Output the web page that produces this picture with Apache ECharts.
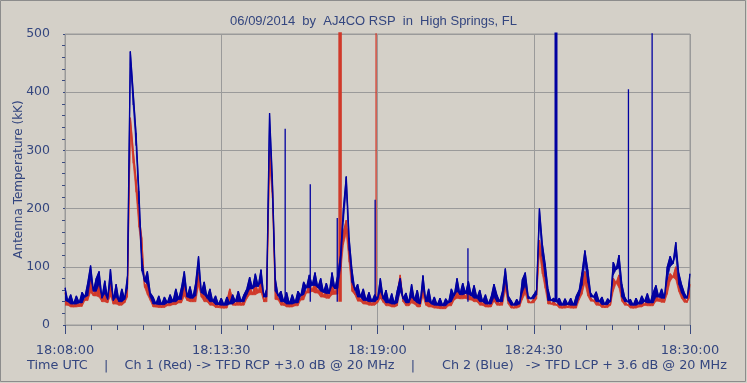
<!DOCTYPE html>
<html><head><meta charset="utf-8">
<script src="https://cdn.jsdelivr.net/npm/echarts@6/dist/echarts.min.js"></script>
<style>html,body{margin:0;padding:0;background:#D4D0C8;}#c{width:747px;height:383px;}</style>
</head><body><div id="c"></div>
<script>
// --- data ---
const titleText = "06/09/2014  by  AJ4CO RSP  in  High Springs, FL";
const footerLeft = "Time UTC    |    Ch 1 (Red) -> TFD RCP +3.0 dB @ 20 MHz    |";
const footerRight = "Ch 2 (Blue)   -> TFD LCP + 3.6 dB @ 20 MHz";
const yAxisName = "Antenna Temperature (kK)";
const startSeconds = 18*3600 + 8*60;   // 18:08:00 UTC
const sampleStep = 6;                  // seconds between samples
const xTickSeconds = [0, 330, 660, 990, 1320];
const yTicks = [0, 100, 200, 300, 400, 500];

const blueValues = [
64,40,52,36,50,38,56,48,72,102,58,80,92,46,76,44,96,42,70,40,
62,44,85,470,400,330,230,115,75,92,55,48,36,50,35,48,38,52,40,62,
44,64,92,48,66,46,72,118,55,74,46,62,40,50,35,46,34,48,36,52,
40,58,40,52,62,82,62,88,66,95,48,62,364,250,80,50,58,40,56,36,
52,38,58,50,74,64,86,68,90,64,80,56,72,54,90,62,85,120,200,255,
150,95,60,70,48,62,42,56,40,52,44,80,45,60,38,54,36,60,80,45,
55,38,70,42,60,36,85,40,62,36,48,34,46,33,45,38,62,50,80,52,
72,54,75,50,68,46,60,40,52,36,48,70,52,40,58,97,50,42,34,44,
36,78,90,50,45,52,60,200,140,105,62,42,46,40,46,34,45,35,46,34,
50,60,90,128,95,55,48,57,40,48,35,45,40,108,95,120,70,48,40,44,
34,46,36,50,40,54,38,55,68,48,62,46,100,118,105,142,90,70,55,46,
88];

const redValues = [
56,34,45,31,43,32,48,42,62,78,50,66,70,40,62,38,72,36,58,34,
52,38,70,356,300,250,190,150,65,74,48,42,31,43,30,42,33,45,35,53,
38,55,72,42,56,40,60,90,48,62,40,53,34,43,30,40,29,41,62,44,
34,50,34,45,52,68,52,72,55,78,40,52,300,240,66,43,50,34,48,31,
45,33,50,43,62,55,72,58,76,55,68,48,62,46,74,53,70,110,160,180,
130,80,52,60,41,53,36,48,34,45,38,68,39,52,33,46,31,55,86,40,
47,33,60,36,52,31,72,34,53,31,41,29,40,28,39,33,53,43,68,45,
62,46,64,43,58,40,51,34,45,31,41,60,45,34,50,82,43,36,29,38,
31,66,76,43,38,45,52,146,110,85,53,36,40,34,40,29,38,30,40,29,
43,51,75,92,72,47,41,49,34,41,30,38,34,80,72,86,58,41,34,38,
29,40,31,43,34,46,33,47,58,41,53,39,75,88,82,100,70,58,46,39,
70];

// narrow interference spikes: time (s after 18:08:00) and peak (kK)
const blueSpikeTimes = [465, 518, 575, 655, 851, 1190, 1240];
const blueSpikePeaks = [337, 242, 184, 215, 132, 405, 520];
const blueWideSpikeTimes = [1037];
const blueWideSpikePeaks = [600];
const redSpikeTimes = [657];
const redSpikePeaks = [600];
const redWideSpikeTimes = [581];
const redWideSpikePeaks = [600];
const spikeBase = 40;

// --- build ---
const bandDepth = 22; // how far below each trace the noise band is shaded
function pairs(vals){ return vals.map((v,i)=>[i*sampleStep, v]); }
function bandData(vals){
  return vals.map((v,i)=>{
    const a = vals[Math.max(0,i-1)], b = vals[Math.min(vals.length-1,i+1)];
    return [i*sampleStep, Math.max(Math.min(a,v,b), v-bandDepth), v];
  });
}
function bandSeries(vals, color, z){
  const d = bandData(vals);
  return {
    type:'custom', z:z, silent:true, clip:true, data:d, encode:{x:0, y:[1,2]},
    renderItem:function(params, api){
      const i = params.dataIndex;
      if (i >= d.length-1) return null;
      const p = [
        api.coord([d[i][0], d[i][2]]), api.coord([d[i+1][0], d[i+1][2]]),
        api.coord([d[i+1][0], d[i+1][1]]), api.coord([d[i][0], d[i][1]])
      ];
      return {type:'polygon', shape:{points:p}, style:{fill:color, stroke:color, lineWidth:0.7}};
    }
  };
}
function spikes(times, peaks){
  const out=[];
  times.forEach((t,k)=>{ out.push([t, spikeBase],[t, peaks[k]],[t,'-']); });
  return out;
}
function fmt(t){
  const s = startSeconds + t;
  const h = Math.floor(s/3600), m = Math.floor((s%3600)/60), ss = Math.round(s%60);
  return String(h).padStart(2,'0')+':'+String(m).padStart(2,'0')+':'+String(ss).padStart(2,'0');
}
const txt = '#34467F';
const fontA = 'Liberation Sans';
const fontB = 'DejaVu Sans';
const RED = '#D0392A', BLUE = '#0000A0';

const chart = echarts.init(document.getElementById('c'));
chart.setOption({
  animation:false,
  backgroundColor:'#D4D0C8',
  title:[
    {text:titleText, left:'center', top:10, textStyle:{color:txt, fontSize:13, fontWeight:'normal', fontFamily:fontA}},
    {text:footerLeft, left:27, top:359, padding:0, textStyle:{color:txt, fontSize:12.8, fontWeight:'normal', fontFamily:fontB}},
    {text:footerRight, left:442, top:359, padding:0, textStyle:{color:txt, fontSize:12.8, fontWeight:'normal', fontFamily:fontB}}
  ],
  graphic:[{type:'rect', shape:{x:0.5,y:0.5,width:745,height:381}, style:{fill:'none', stroke:'#8C8C8C', lineWidth:1}, silent:true}],
  grid:{left:65, right:57, top:34, bottom:58, show:true, borderColor:'#9A9A9A', borderWidth:1, backgroundColor:'transparent'},
  xAxis:{
    type:'value', min:xTickSeconds[0], max:xTickSeconds[xTickSeconds.length-1], interval:xTickSeconds[1]-xTickSeconds[0],
    offset:9,
    axisLine:{show:false},
    axisTick:{show:true, length:9, lineStyle:{color:'#3A4A80'}},
    minorTick:{show:true, splitNumber:6, length:5, lineStyle:{color:'#3A4A80'}},
    splitLine:{show:true, lineStyle:{color:'#9A9A9A', width:1}},
    axisLabel:{formatter:fmt, color:txt, fontSize:13, fontFamily:fontB, margin:10}
  },
  yAxis:{
    type:'value', min:yTicks[0], max:yTicks[yTicks.length-1], interval:yTicks[1]-yTicks[0],
    offset:5,
    name:yAxisName, nameLocation:'middle', nameGap:35, nameRotate:90, nameMoveOverlap:false,
    nameTextStyle:{color:txt, fontSize:12, fontFamily:fontB},
    axisLine:{show:false},
    axisTick:{show:true, length:2, lineStyle:{color:'#3A4A80'}},
    minorTick:{show:true, splitNumber:5, length:3, lineStyle:{color:'#3A4A80'}},
    splitLine:{show:true, lineStyle:{color:'#9A9A9A', width:1}},
    axisLabel:{color:txt, fontSize:12.5, fontFamily:fontB, margin:10}
  },
  series:[
    bandSeries(redValues, RED, 2),
    {type:'line', data:pairs(redValues), showSymbol:false, lineStyle:{color:RED, width:1.3}, z:2},
    {type:'line', data:spikes(redSpikeTimes, redSpikePeaks), showSymbol:false, lineStyle:{color:RED, width:1.3}, z:2},
    {type:'line', data:spikes(redWideSpikeTimes, redWideSpikePeaks), showSymbol:false, lineStyle:{color:RED, width:3.5}, z:2},
    bandSeries(blueValues, BLUE, 3),
    {type:'line', data:pairs(blueValues), showSymbol:false, lineStyle:{color:BLUE, width:1.3}, z:3},
    {type:'line', data:spikes(blueSpikeTimes, blueSpikePeaks), showSymbol:false, lineStyle:{color:BLUE, width:1.3}, z:3},
    {type:'line', data:spikes(blueWideSpikeTimes, blueWideSpikePeaks), showSymbol:false, lineStyle:{color:BLUE, width:3}, z:3}
  ]
});
</script></body></html>
